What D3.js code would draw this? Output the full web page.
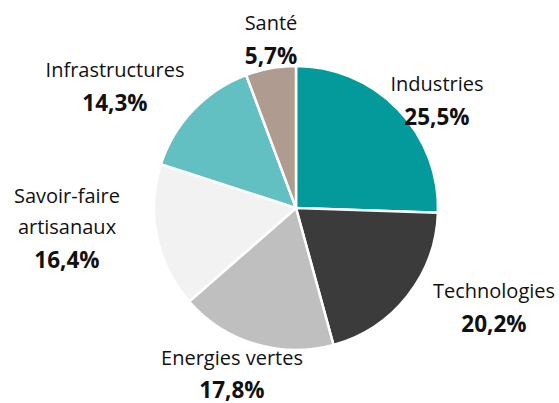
<!DOCTYPE html>
<html>
<head>
<meta charset="utf-8">
<script src="https://cdn.jsdelivr.net/npm/d3@7"></script>
<style>
  html, body { margin: 0; padding: 0; background: #fff; }
  svg { display: block; }
  .lbl { font-family: "Open Sans", sans-serif; font-size: 20px; fill: #111; }
  .pct { font-family: "Open Sans", sans-serif; font-size: 22.5px; font-weight: 700; fill: #111; }
</style>
</head>
<body>
<svg id="chart" width="559" height="403"></svg>
<script>
// Sector breakdown, clockwise from 12 o'clock
const categories = ["Industries", "Technologies", "Energies vertes", "Savoir-faire artisanaux", "Infrastructures", "Santé"];
const values = [25.5, 20.2, 17.8, 16.4, 14.3, 5.7];
const valueLabels = ["25,5%", "20,2%", "17,8%", "16,4%", "14,3%", "5,7%"];
const colors = ["#049a9c", "#3b3b3b", "#bfbfbf", "#f2f2f2", "#63c0c2", "#b09b91"];
// wrapped category names
const nameLines = [["Industries"], ["Technologies"], ["Energies vertes"], ["Savoir-faire", "artisanaux"], ["Infrastructures"], ["Santé"]];
// label block anchor: centre x, first baseline y, gap to the percentage baseline
const labelAnchors = [[437, 91, 33.5], [494, 298, 33.5], [232, 365, 32.5], [67, 203, 33.5], [115, 77, 33.5], [271, 30, 33.5]];

const svg = d3.select("#chart");
const cx = 296, cy = 208, r = 142;

const pie = d3.pie().sort(null).value(d => d);
const arcs = pie(values);
const arc = d3.arc().innerRadius(0).outerRadius(r);

const g = svg.append("g").attr("transform", `translate(${cx},${cy})`);
g.selectAll("path")
  .data(arcs)
  .join("path")
  .attr("d", arc)
  .attr("fill", (d, i) => colors[i])
  .attr("stroke", "#fff")
  .attr("stroke-width", 2.5)
  .attr("stroke-linejoin", "round");

const lineH = 31;
const labels = svg.selectAll("g.label")
  .data(categories)
  .join("g")
  .attr("class", "label");

labels.each(function(d, i) {
  const sel = d3.select(this);
  const [x, y, gap] = labelAnchors[i];
  nameLines[i].forEach((t, k) => {
    sel.append("text").attr("class", "lbl")
      .attr("x", x).attr("y", y + k * lineH)
      .attr("text-anchor", "middle").text(t);
  });
  sel.append("text").attr("class", "pct")
    .attr("x", x).attr("y", y + (nameLines[i].length - 1) * lineH + gap)
    .attr("text-anchor", "middle").text(valueLabels[i]);
});
</script>
</body>
</html>
